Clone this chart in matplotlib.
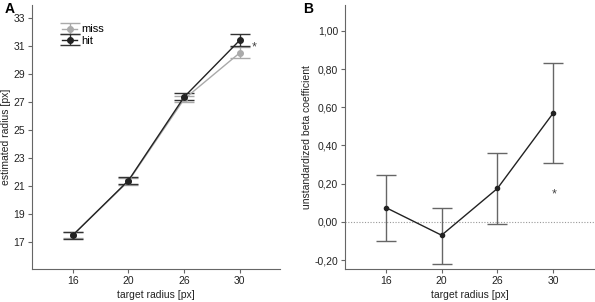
import matplotlib
matplotlib.use("Agg")
import matplotlib.pyplot as plt
import numpy as np

plt.rcParams['font.family'] = ['Liberation Sans', 'DejaVu Sans']

categories = ["16", "20", "26", "30"]
hit_mean = [17.5, 21.4, 27.35, 31.4]
hit_low = [17.25, 21.15, 27.1, 31.0]
hit_high = [17.75, 21.65, 27.65, 31.85]
miss_mean = [17.5, 21.35, 27.2, 30.5]
miss_low = [17.3, 21.1, 27.0, 30.1]
miss_high = [17.7, 21.6, 27.45, 30.9]

beta_mean = [0.075, -0.07, 0.175, 0.57]
beta_low = [-0.10, -0.22, -0.01, 0.31]
beta_high = [0.245, 0.075, 0.36, 0.83]

yticksA = [17, 19, 21, 23, 25, 27, 29, 31, 33]
yticksB = [-0.2, 0.0, 0.2, 0.4, 0.6, 0.8, 1.0]

fig = plt.figure(figsize=(5.95, 3.02), dpi=100)
axA = fig.add_axes([32/595, 33/302, 248/595, 264/302])
axB = fig.add_axes([345/595, 33/302, 249/595, 264/302])

x = np.arange(len(categories))
spine_col = '#666666'
fs = 7.5

def style(ax):
    for s in ['top', 'right']:
        ax.spines[s].set_visible(False)
    for s in ['left', 'bottom']:
        ax.spines[s].set_color(spine_col)
        ax.spines[s].set_linewidth(0.8)
    ax.tick_params(axis='both', direction='out', length=3, width=0.8, color=spine_col,
                   labelsize=fs, pad=2, labelcolor='#222222')
    ax.set_xticks(x)
    ax.set_xticklabels(categories)
    ax.set_xlim(-0.73, 3.72)

# Panel A
style(axA)
mlo = np.array(miss_mean) - np.array(miss_low)
mhi = np.array(miss_high) - np.array(miss_mean)
hlo = np.array(hit_mean) - np.array(hit_low)
hhi = np.array(hit_high) - np.array(hit_mean)
axA.errorbar(x, miss_mean, yerr=[mlo, mhi], color='#aaaaaa', ecolor='#aaaaaa', marker='o',
             markersize=4, lw=1.0, elinewidth=1.0, capsize=7, capthick=1.0, label='miss')
axA.errorbar(x, hit_mean, yerr=[hlo, hhi], color='#222222', ecolor='#333333', marker='o',
             markersize=4, lw=1.0, elinewidth=1.0, capsize=7, capthick=1.0, label='hit')
axA.set_ylim(15.1, 33.9)
axA.set_yticks(yticksA)
axA.set_xlabel('target radius [px]', fontsize=fs, color='#222222', labelpad=3)
axA.set_ylabel('estimated radius [px]', fontsize=fs, color='#222222', labelpad=2)
axA.text(3.25, 30.85, '*', fontsize=9, color='#444444', ha='center', va='center')
axA.legend(loc='upper left', bbox_to_anchor=(0.105, 0.943), frameon=False, fontsize=8,
           handlelength=1.3, handletextpad=0.4, labelspacing=0.1, borderaxespad=0)

# Panel B
style(axB)
blo = np.array(beta_mean) - np.array(beta_low)
bhi = np.array(beta_high) - np.array(beta_mean)
axB.axhline(0, color='#999999', lw=0.8, ls=(0, (1, 1.5)))
axB.errorbar(x, beta_mean, yerr=[blo, bhi], color='#222222', ecolor='#666666', marker='o',
             markersize=3, lw=1.0, elinewidth=1.0, capsize=7, capthick=1.0)
axB.set_ylim(-0.247, 1.136)
axB.set_yticks(yticksB)
axB.set_yticklabels([f"{v:.2f}".replace('.', ',') for v in yticksB])
axB.set_xlim(-0.73, 3.73)
axB.set_xlabel('target radius [px]', fontsize=fs, color='#222222', labelpad=3)
axB.set_ylabel('unstandardized beta coefficient', fontsize=fs, color='#222222', labelpad=2)
axB.text(3.02, 0.145, '*', fontsize=9, color='#444444', ha='center', va='center')

fig.text(5/595, 1 - 9/302, 'A', fontsize=10, fontweight='bold', va='center', ha='left')
fig.text(303/595, 1 - 9/302, 'B', fontsize=10, fontweight='bold', va='center', ha='left')

fig.savefig('out.png', dpi=100)
